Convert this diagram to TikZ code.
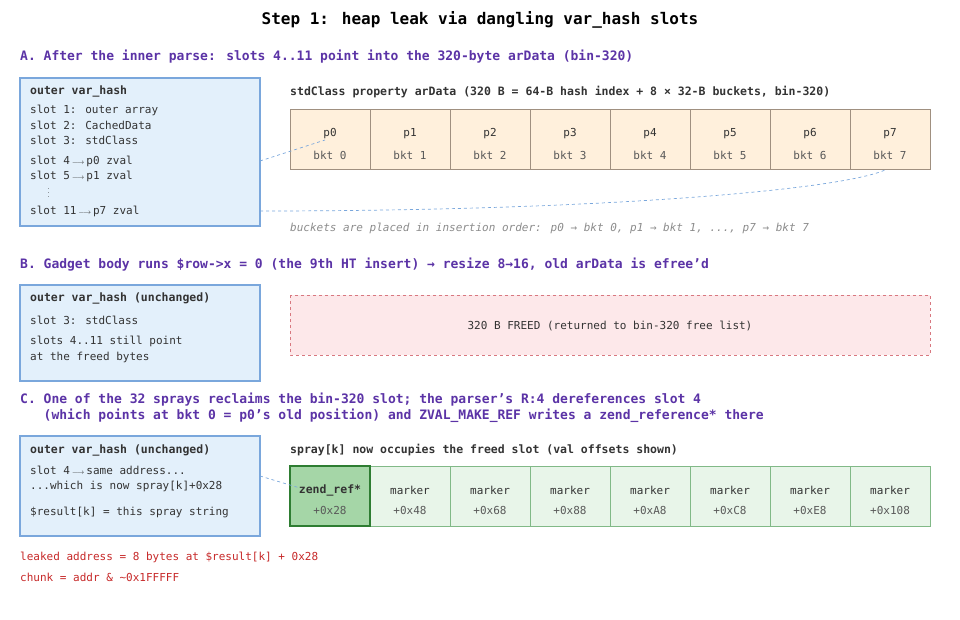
\documentclass[tikz,border=0pt]{standalone}
\usepackage{fontspec}
\setmainfont{DejaVu Sans Mono}
\setmonofont{DejaVu Sans Mono}
\usetikzlibrary{positioning}
\usetikzlibrary{calc}
\definecolor{hd}{HTML}{5B33A6}
\definecolor{bxfill}{HTML}{E3F0FB}
\definecolor{bxdraw}{HTML}{7AA7DC}
\definecolor{cellfill}{HTML}{FFF0DC}
\definecolor{celldraw}{HTML}{A09080}
\definecolor{freefill}{HTML}{FDE8EA}
\definecolor{freedraw}{HTML}{D87880}
\definecolor{grfill}{HTML}{E8F5E9}
\definecolor{grdraw}{HTML}{81B987}
\definecolor{gr1fill}{HTML}{A5D6A7}
\definecolor{gr1draw}{HTML}{2E7D32}
\definecolor{leak}{HTML}{C62828}
\tikzset{head/.style={anchor=west,inner sep=0pt,font=\fontsize{13}{16}\selectfont\bfseries,text=hd,align=left}}
\tikzset{txt/.style={anchor=west,inner sep=0pt,font=\fontsize{11}{13}\selectfont,text=black!80}}
\tikzset{bold/.style={txt,font=\fontsize{11.5}{13}\selectfont\bfseries}}
\tikzset{vbox/.style={draw=bxdraw,fill=bxfill,line width=1.2pt}}
\tikzset{cell/.style={draw=celldraw,fill=cellfill,line width=1pt,minimum width=80pt,minimum height=60pt,inner sep=0pt}}
\tikzset{gcell/.style={cell,draw=grdraw,fill=grfill}}
\tikzset{lnk/.style={draw=bxdraw,dashed,line width=0.7pt}}
\newcommand{\arr}{\,{\scriptsize$\longrightarrow$}\,}
\begin{document}
\begin{tikzpicture}[x=1pt,y=-1pt]
\useasboundingbox (0,0) rectangle (960,620);
\node[font=\fontsize{16}{18}\selectfont\bfseries] (title) at (480,20) {Step 1: heap leak via dangling var\_hash slots};

% A
\node[head] (ha) at (20,57) {A. After the inner parse: slots 4..11 point into the 320-byte arData (bin-320)};
\draw[vbox] (20,78) rectangle (260,226);
\node[bold] (va) at (30,91) {outer var\_hash};
\node[txt] (a1) at (30,110) {slot 1: outer array};
\node[txt] (a2) at (30,125) {slot 2: CachedData};
\node[txt] (a3) at (30,140) {slot 3: stdClass};
\node[txt] (a4) at (30,161) {slot 4\arr p0 zval};
\node[txt] (a5) at (30,176) {slot 5\arr p1 zval};
\node[txt,font=\tiny] (ad) at (47,190) {$\vdots$};
\node[txt] (a11) at (30,211) {slot 11\arr p7 zval};
\node[bold] (ttl) at (290,92) {stdClass property arData (320 B = 64-B hash index + 8 × 32-B buckets, bin-320)};
\foreach \i in {0,...,7} {
  \node[cell] (p\i) at (330+80*\i,140) {};
  \node[txt,anchor=center] at (330+80*\i,134) {p\i};
  \node[txt,anchor=center,text=black!65] at (330+80*\i,155) {bkt \i};
}
\draw[lnk] (260,161) -- (325,140);
\draw[lnk] (260,211) .. controls (600,211) and (840,190) .. (885,170);
\node[txt,font=\fontsize{11}{13}\selectfont\itshape,text=black!45] (note) at (290,228) {buckets are placed in insertion order: p0 → bkt 0, p1 → bkt 1, ..., p7 → bkt 7};

% B
\node[head] (hb) at (20,265) {B. Gadget body runs \$row->x = 0 (the 9th HT insert) → resize 8→16, old arData is efree'd};
\draw[vbox] (20,285) rectangle (260,381);
\node[bold] (vb) at (30,298) {outer var\_hash (unchanged)};
\node[txt] (b3) at (30,320) {slot 3: stdClass};
\node[txt] (b4) at (30,341) {slots 4..11 still point};
\node[txt] (b5) at (30,357) {at the freed bytes};
\draw[draw=freedraw,fill=freefill,dashed,line width=1pt] (290,295) rectangle (930,355);
\node[txt,anchor=center] (freed) at (610,326) {320 B FREED (returned to bin-320 free list)};

% C
\node[head] (hc) at (20,408) {C. One of the 32 sprays reclaims the bin-320 slot; the parser's R:4 dereferences slot 4\\\phantom{C.} (which points at bkt 0 = p0's old position) and ZVAL\_MAKE\_REF writes a zend\_reference* there};
\draw[vbox] (20,436) rectangle (260,536);
\node[bold] (vc) at (30,450) {outer var\_hash (unchanged)};
\node[txt] (c4) at (30,470) {slot 4\arr same address...};
\node[txt] (c5) at (30,486) {...which is now spray[k]+0x28};
\node[txt] (c6) at (30,512) {\$result[k] = this spray string};
\node[bold] (sl) at (290,450) {spray[k] now occupies the freed slot (val offsets shown)};
\foreach \o [count=\i from 1] in {48,68,88,A8,C8,E8,108} {
  \node[gcell] (s\i) at (330+80*\i,496) {};
  \node[txt,anchor=center] at (330+80*\i,490) {marker};
  \node[txt,anchor=center,text=black!65] at (330+80*\i,510) {+0x\o};
}
\node[cell,draw=gr1draw,fill=gr1fill,line width=1.6pt] (s0) at (330,496) {};
\node[bold,anchor=center] at (330,490) {zend\_ref*};
\node[txt,anchor=center,text=black!65] at (330,510) {+0x28};
\draw[lnk] (260,476) -- (300,488);
\node[txt,text=leak] (l1) at (20,557) {leaked address = 8 bytes at \$result[k] + 0x28};
\node[txt,text=leak] (l2) at (20,577) {chunk = addr \& \textasciitilde 0x1FFFFF};
\end{tikzpicture}
\end{document}
